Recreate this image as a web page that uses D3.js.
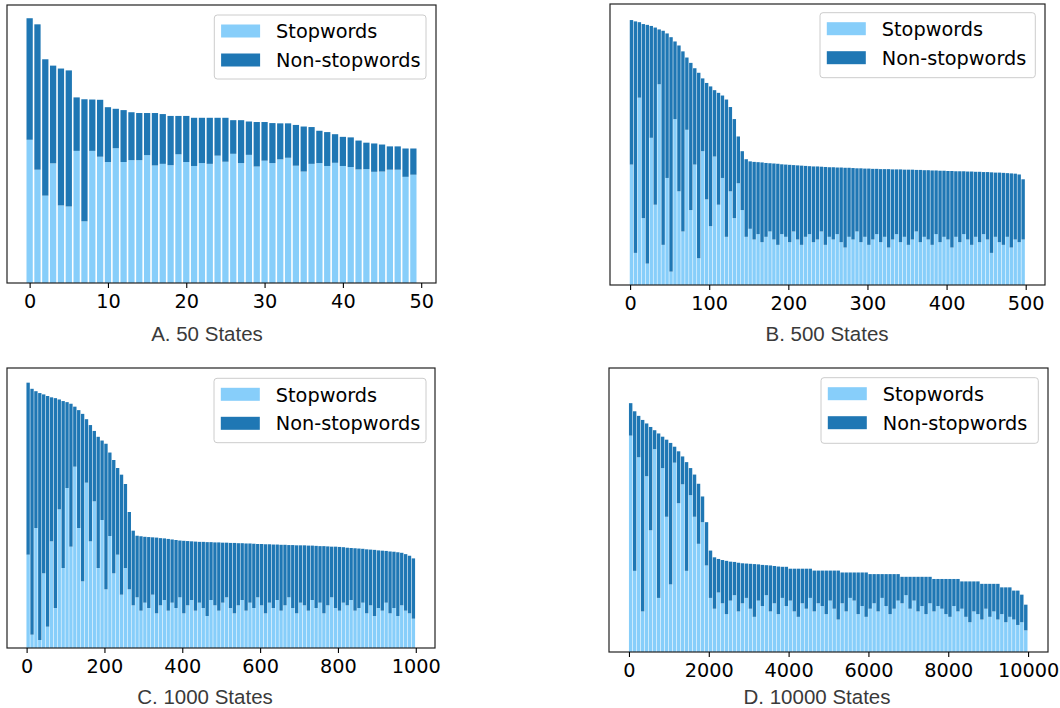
<!DOCTYPE html>
<html><head><meta charset="utf-8">
<script src="https://cdn.jsdelivr.net/npm/d3@7"></script>
<style>body{margin:0;background:#fff} svg{display:block}</style>
</head><body><svg id="c" width="1060" height="708"></svg>
<script>
// ---------- data (bar heights in arbitrary units, tallest bar = 100) ----------
const seriesNames = ["Stopwords", "Non-stopwords"];

// A. 50 states (one value per state)
const aTotal = [100,97.7,84.5,82.1,81.0,80.3,70.1,69.4,69.3,69.2,
 66.4,65.8,65.3,64.5,64.2,64.2,64.2,63.8,63.1,63.1,
 63.1,62.4,62.4,62.4,62.4,62.4,61.5,61.5,61.0,60.8,
 60.8,60.4,60.3,60.3,59.7,59.1,58.9,57.5,57.0,56.2,
 55.2,55.0,53.8,53.0,52.7,52.3,51.6,51.6,50.8,50.8];
const aStop = [54.1,42.8,33.0,45.2,29.3,28.9,49.9,23.3,49.9,47.7,
 45.7,50.9,45.7,46.4,46.4,48.3,44.4,45.0,44.5,48.6,
 45.7,44.2,45.3,45.0,48.1,45.8,48.8,45.3,48.4,44.0,
 46.2,45.3,46.7,47.3,44.3,42.1,45.0,45.3,44.2,45.4,
 44.2,43.8,42.9,43.0,42.0,42.1,42.8,42.8,40.1,40.9];
const aTicks = [0,10,20,30,40,50];

// B. 500 states (read every 5 states)
const bStep = 5;
const bTotal = [99,98.5,98.2,97.5,97.2,96.8,96.2,95.5,95.0,94.0,
 92.6,91.0,89.5,87.3,85.0,83.0,81.0,79.3,77.2,75.5,
 74.2,72.8,71.8,70.8,69.3,66.5,62.0,55.5,50.0,47.0,
 46.2,46.0,45.9,45.8,45.6,45.5,45.4,45.3,45.1,45.0,
 44.9,44.8,44.7,44.6,44.5,44.4,44.3,44.3,44.2,44.1,
 44.0,44.0,43.9,43.9,43.8,43.8,43.7,43.6,43.6,43.5,
 43.5,43.4,43.4,43.3,43.3,43.3,43.2,43.2,43.2,43.1,
 43.1,43.1,43.0,43.0,42.9,42.9,42.8,42.8,42.7,42.7,
 42.6,42.6,42.5,42.5,42.5,42.4,42.4,42.3,42.3,42.2,
 42.2,42.1,42.0,42.0,41.9,41.8,41.7,41.6,41.3,39.5];
const bStop = [45,12,70,25,8,55,30,75,15,40,
 5,62,35,20,58,28,45,10,50,32,
 22,48,30,40,18,35,25,38,28,18,
 21,17,19,16,18,20,17,15,19,18,
 16,20,17,15,18,19,16,17,20,15,
 18,17,19,16,14,18,17,20,16,18,
 15,17,19,16,18,14,17,19,16,18,
 15,17,20,16,18,17,15,19,16,18,
 17,14,18,16,19,17,15,18,16,19,
 17,12,18,16,15,18,14,17,16,17];
const bTicks = [0,100,200,300,400,500];

// C. 1000 states (read every 10 states)
const cStep = 10;
const cTotal = [99.5,97.2,96.3,95.6,95.1,94.5,94.0,93.7,93.2,92.6,
 92.2,91.6,90.5,89.2,87.8,85.8,83.6,81.4,79.2,77.8,
 76.6,73.3,70.5,67.5,65.0,61.5,51.0,44.0,42.1,41.9,
 41.7,41.6,41.5,41.4,41.2,41.1,40.9,40.7,40.5,40.3,
 40.2,40.1,40.0,39.9,39.8,39.8,39.7,39.7,39.6,39.6,
 39.5,39.5,39.4,39.4,39.3,39.3,39.2,39.2,39.1,39.0,
 39.0,38.9,38.9,38.8,38.8,38.7,38.7,38.6,38.6,38.5,
 38.5,38.5,38.4,38.4,38.3,38.2,38.2,38.1,38.0,38.0,
 37.9,37.8,37.6,37.5,37.4,37.3,37.2,37.0,36.9,36.8,
 36.6,36.5,36.4,36.2,36.1,35.9,35.7,35.2,34.6,33.6];
const cStop = [35,5,45,3,28,8,40,15,52,30,
 60,38,68,45,25,62,40,55,30,48,
 22,42,28,35,20,30,22,16,19,14,
 17,15,20,13,16,18,14,17,15,19,
 13,16,18,14,17,15,12,18,16,14,
 17,19,15,13,16,18,14,17,15,19,
 16,13,17,15,18,14,16,19,15,13,
 17,16,14,18,15,17,13,16,19,15,
 14,17,16,18,14,15,17,13,16,12,
 15,14,17,13,15,12,16,14,13,11];
const cTicks = [0,200,400,600,800,1000];

// D. 10000 states (read every 100 states)
const dStep = 100;
const dTotal = [92,89.0,87.3,85.8,84.5,83.2,82.0,80.8,79.6,78.5,
 77.3,75.9,74.2,72.3,70.2,68.0,65.6,62.2,57.5,48.0,
 37.5,35.0,34.4,34.0,33.7,33.4,33.3,33.0,32.8,32.7,
 32.6,32.5,32.4,32.2,32.1,32.0,31.8,31.6,31.5,31.5,
 30.8,30.8,30.8,30.8,30.8,30.8,30.1,30.1,30.1,30.1,
 30.1,30.1,30.1,29.4,29.4,29.4,29.4,29.4,29.4,29.4,
 28.8,28.8,28.8,28.8,28.8,28.8,28.8,28.8,27.8,27.8,
 27.8,27.8,27.8,27.8,27.8,27.8,27.0,27.0,27.0,27.0,
 27.0,27.0,27.0,26.1,26.1,26.1,26.1,26.1,25.2,25.2,
 25.2,25.2,25.2,23.9,23.9,23.9,22.7,22.7,21.2,17.5];
const dStop = [80,30,72,15,65,45,75,20,68,50,
 25,70,55,62,30,58,50,40,48,32,
 20,16,22,18,14,19,21,15,18,20,
 16,13,19,17,21,15,18,14,20,17,
 19,15,13,18,16,20,15,18,17,14,
 19,16,12,18,15,20,19,14,17,13,
 16,18,15,20,17,14,16,19,18,21,
 16,19,15,17,14,18,15,17,16,14,
 13,17,15,16,13,11,15,14,12,16,
 13,15,12,14,11,13,12,10,11,8];
const dTicks = [0,2000,4000,6000,8000,10000];

// ---------- drawing ----------
const LIGHT = "#87cefa", DARK = "#1f77b4";
const svg = d3.select("#c");

const panels = [
  {n:50,    step:1,     total:aTotal, stop:aStop, ticks:aTicks, title:"A. 50 States",
   box:{l:7,t:5,r:436,b:283},    leg:{x:214.3,y:15,w:211.7,h:64},  tt:{x:207,y:341}},
  {n:500,   step:bStep, total:bTotal, stop:bStop, ticks:bTicks, title:"B. 500 States",
   box:{l:610,t:4,r:1045,b:285}, leg:{x:820,y:12.7,w:215.3,h:65},  tt:{x:827,y:341}},
  {n:1000,  step:cStep, total:cTotal, stop:cStop, ticks:cTicks, title:"C. 1000 States",
   box:{l:7,t:368,r:435,b:648},  leg:{x:214,y:378.3,w:212,h:64.4}, tt:{x:205,y:704}},
  {n:10000, step:dStep, total:dTotal, stop:dStop, ticks:dTicks, title:"D. 10000 States",
   box:{l:609,t:368,r:1048,b:652}, leg:{x:821,y:377.7,w:217.3,h:65.6}, tt:{x:817,y:704}}
];

panels.forEach(p => {
  const g = svg.append("g");
  const m = 0.05 * (p.n - 1 + 0.8);
  const x = d3.scaleLinear().domain([-0.4 - m, p.n - 1 + 0.4 + m]).range([p.box.l, p.box.r]);
  const y = d3.scaleLinear().domain([0, 105]).range([p.box.b, p.box.t]);
  const rows = p.total.map((t, i) => ({s: i * p.step, total: t, stop: p.stop[i]}));
  const w = p.step > 1 ? p.step * 0.86 : 0.8;

  const bars = g.append("g");
  bars.append("g").selectAll("rect").data(rows).join("rect")
    .attr("x", d => x(d.s - 0.4))
    .attr("width", d => x(d.s - 0.4 + w) - x(d.s - 0.4))
    .attr("y", d => y(d.stop))
    .attr("height", d => y(0) - y(d.stop))
    .attr("fill", LIGHT);
  bars.append("g").selectAll("rect").data(rows).join("rect")
    .attr("x", d => x(d.s - 0.4))
    .attr("width", d => x(d.s - 0.4 + w) - x(d.s - 0.4))
    .attr("y", d => y(d.total))
    .attr("height", d => y(d.stop) - y(d.total))
    .attr("fill", DARK);

  // spines
  g.append("rect").attr("x", p.box.l).attr("y", p.box.t)
    .attr("width", p.box.r - p.box.l).attr("height", p.box.b - p.box.t)
    .attr("fill", "none").attr("stroke", "#222").attr("stroke-width", 1.2);

  // x axis
  const ax = g.append("g").attr("transform", `translate(0,${p.box.b})`)
    .call(d3.axisBottom(x).tickValues(p.ticks).tickSize(5).tickFormat(d3.format("d")));
  ax.select(".domain").remove();
  ax.selectAll(".tick line").attr("stroke", "#000").attr("stroke-width", 1.1);
  ax.selectAll(".tick text").attr("y", 25.3).attr("dy", null)
    .attr("font-family", "DejaVu Sans, sans-serif").attr("font-size", "19.3px").attr("fill", "#000");

  // legend
  const L = p.leg;
  const lg = g.append("g");
  lg.append("rect").attr("x", L.x).attr("y", L.y).attr("width", L.w).attr("height", L.h)
    .attr("rx", 3).attr("fill", "#fff").attr("fill-opacity", 0.8)
    .attr("stroke", "#cccccc").attr("stroke-width", 1);
  [LIGHT, DARK].forEach((c, i) => {
    lg.append("rect").attr("x", L.x + 6.8).attr("y", L.y + 9.5 + i * 29)
      .attr("width", 39).attr("height", 13).attr("fill", c);
    lg.append("text").attr("x", L.x + 61.8).attr("y", L.y + 23.4 + i * 28.6)
      .attr("font-family", "DejaVu Sans, sans-serif").attr("font-size", "19.3px")
      .attr("fill", "#000").text(seriesNames[i]);
  });

  // caption
  svg.append("text").attr("x", p.tt.x).attr("y", p.tt.y).attr("text-anchor", "middle")
    .attr("font-family", "Liberation Sans, Arial, Helvetica, sans-serif")
    .attr("font-size", "20.5px").attr("fill", "#3a3a3a").text(p.title);
});
</script></body></html>
